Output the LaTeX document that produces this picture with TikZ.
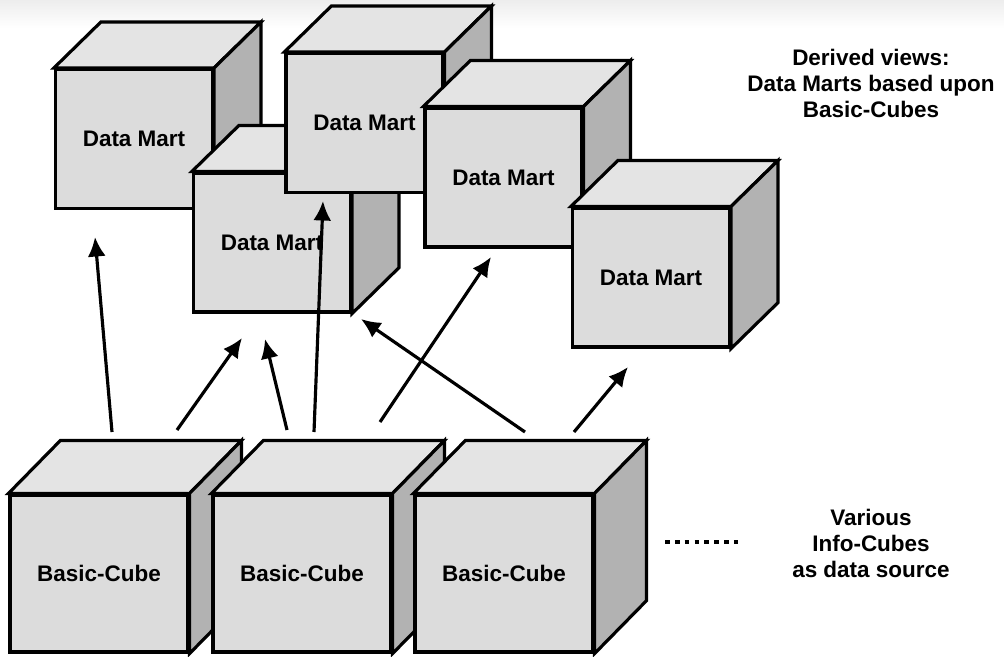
\documentclass[tikz,border=0pt]{standalone}
\usepackage{fontspec}
\setmainfont{Liberation Sans}
\usetikzlibrary{arrows.meta,calc}
\definecolor{CubeFront}{RGB}{220,220,220}
\definecolor{CubeTop}{RGB}{228,228,228}
\definecolor{CubeSide}{RGB}{178,178,178}
\definecolor{Ink}{RGB}{0,0,0}
\tikzset{
  >=Latex,
  face/.style={draw=Ink,line width=1.8pt,line join=miter},
  mart/.style={face,fill=CubeFront,text=Ink,font=\bfseries\fontsize{12.8}{15}\selectfont,minimum width=3.14cm,minimum height=2.78cm,inner sep=0pt},
  basic/.style={mart,minimum width=3.56cm,minimum height=3.14cm},
  topface/.style={face,fill=CubeTop},
  sideface/.style={face,fill=CubeSide},
  flow/.style={-{Latex[length=3.9mm,width=3.6mm]},line width=1.8pt,draw=Ink},
  note/.style={font=\bfseries\fontsize{12.8}{14.8}\selectfont,text=Ink,align=center}
}
\begin{document}
\begin{tikzpicture}[x=0.02cm,y=-0.02cm]
  \useasboundingbox (0,0) rectangle (1004,656);
  \shade[top color=black!7,bottom color=white] (0,0) rectangle (1004,28);
  % data marts, back to front
  \foreach \n/\x/\y in {dm1/134/139,dm2/272/242.5,dm3/364.5/123,dm4/503.5/177.5,dm5/651/277.5}{
    \node[mart] (\n) at (\x,\y) {Data Mart};
    \draw[topface] (\n.north west) -- ++(47,-46) -- ($(\n.north east)+(47,-46)$) -- (\n.north east) -- cycle;
    \draw[sideface] (\n.north east) -- ++(47,-46) -- ($(\n.south east)+(47,-46)$) -- (\n.south east) -- cycle;
  }
  % basic cubes
  \foreach \n/\x in {bc1/99,bc2/302,bc3/504}{
    \node[basic] (\n) at (\x,573.5) {Basic-Cube};
    \draw[topface] (\n.north west) -- ++(52,-53) -- ($(\n.north east)+(52,-53)$) -- (\n.north east) -- cycle;
    \draw[sideface] (\n.north east) -- ++(52,-53) -- ($(\n.south east)+(52,-53)$) -- (\n.south east) -- cycle;
  }
  \draw[line width=2.7pt,dash pattern=on 2.7pt off 2.9pt] (665,542) -- (738,542);
  \node[note] (derived) at (871,83) {Derived views:\\Data Marts based upon\\Basic-Cubes};
  \node[note] (various) at (871,543) {Various\\Info-Cubes\\as data source};
  % arrow ends
  \coordinate (s1) at (112,432); \coordinate (d1) at (95,237);
  \coordinate (s2) at (177,430); \coordinate (d2) at (242,338);
  \coordinate (s3) at (287,430); \coordinate (d3) at (265,339);
  \coordinate (s4) at (314,432); \coordinate (d4) at (323,201);
  \coordinate (s5) at (380,422); \coordinate (d5) at (491,257);
  \coordinate (s6) at (525,432); \coordinate (d6) at (361,319);
  \coordinate (s7) at (574,432); \coordinate (d7) at (628,367);
  \foreach \i in {1,...,7}{\draw[flow] (s\i) -- (d\i);}
\end{tikzpicture}
\end{document}
